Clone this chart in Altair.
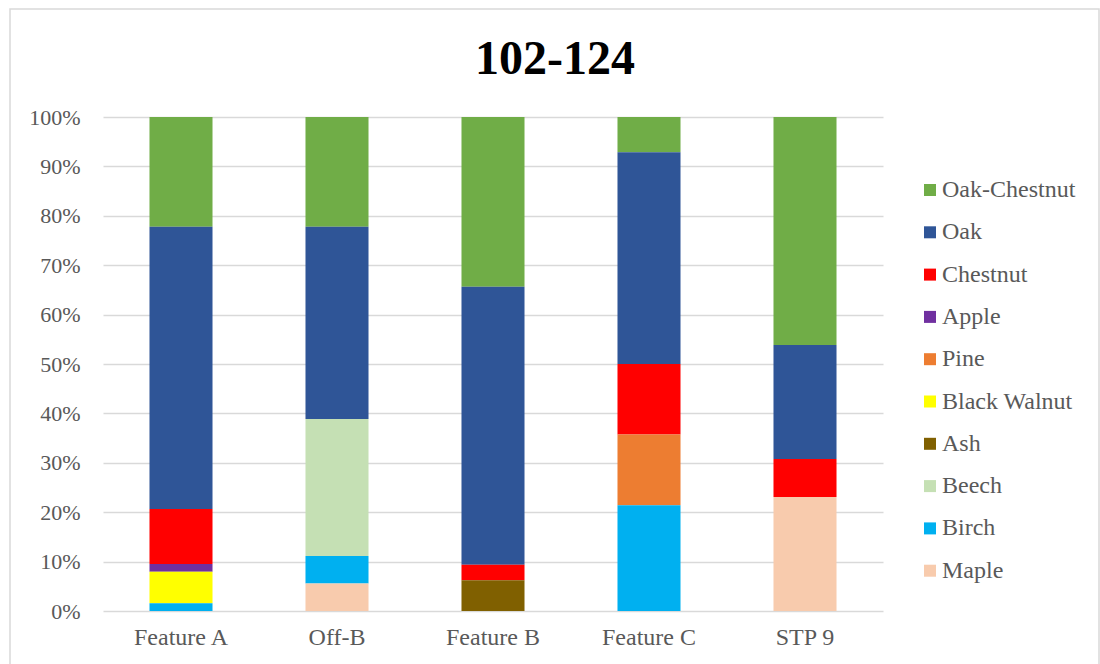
import altair as alt
import pandas as pd

# Sample sites along the x axis
sites = ["Feature A", "Off-B", "Feature B", "Feature C", "STP 9"]

# Wood taxa, listed top of legend first
taxa = ["Oak-Chestnut", "Oak", "Chestnut", "Apple", "Pine",
        "Black Walnut", "Ash", "Beech", "Birch", "Maple"]

colors = ["#70AD47", "#2F5597", "#FF0000", "#7030A0", "#ED7D31",
          "#FFFF00", "#806000", "#C5E0B4", "#00B0F0", "#F8CBAD"]

# Fragment counts per taxon, one value per site (same order as `sites`)
oak_chestnut = [14, 4, 11, 1, 6]
oak          = [36, 7, 18, 6, 3]
chestnut     = [7, 0, 1, 2, 1]
apple        = [1, 0, 0, 0, 0]
pine         = [0, 0, 0, 2, 0]
black_walnut = [4, 0, 0, 0, 0]
ash          = [0, 0, 2, 0, 0]
beech        = [0, 5, 0, 0, 0]
birch        = [1, 1, 0, 3, 0]
maple        = [0, 1, 0, 0, 3]

counts = [oak_chestnut, oak, chestnut, apple, pine,
          black_walnut, ash, beech, birch, maple]

rows = []
for t_i, (taxon, vals) in enumerate(zip(taxa, counts)):
    for site, v in zip(sites, vals):
        rows.append({"site": site, "taxon": taxon, "count": v,
                     "stack": len(taxa) - 1 - t_i})
df = pd.DataFrame(rows)

FONT = "Liberation Serif"
GREY = "#595959"
W, H = 780, 494

bars = alt.Chart(df).mark_bar().encode(
    x=alt.X("site:N", sort=sites,
            scale=alt.Scale(paddingInner=0.596, paddingOuter=0.298),
            axis=alt.Axis(title=None, labelAngle=0, ticks=False, tickSize=0,
                          domain=False, grid=False, labelPadding=14,
                          labelFontSize=24, labelFont=FONT, labelColor=GREY)),
    y=alt.Y("count:Q", stack="normalize",
            scale=alt.Scale(domain=[0, 1]),
            axis=alt.Axis(title=None, format=".0%",
                          values=[i / 10 for i in range(11)],
                          ticks=False, tickSize=0, domain=False,
                          labelPadding=23, labelFontSize=22,
                          labelFont=FONT, labelColor=GREY,
                          grid=True, gridColor="#d9d9d9", gridWidth=1.3)),
    color=alt.Color("taxon:N",
                    scale=alt.Scale(domain=taxa, range=colors),
                    legend=alt.Legend(title=None, orient="none",
                                      legendX=815, legendY=61,
                                      symbolType="square", symbolSize=144,
                                      symbolStrokeWidth=0,
                                      labelFont=FONT, labelFontSize=24,
                                      labelColor=GREY, rowPadding=18.3,
                                      labelOffset=0)),
    order=alt.Order("stack:Q", sort="ascending"),
)

# Light grey frame around the whole figure
frame = alt.Chart(pd.DataFrame({"k": [0]})).mark_rect(
    fill=None, stroke="#d9d9d9", strokeWidth=1.5, clip=False
).encode(
    x=alt.value(-93), x2=alt.value(996),
    y=alt.value(-108), y2=alt.value(560),
)

# Chart heading
heading = alt.Chart(pd.DataFrame({"t": ["102-124"]})).mark_text(
    font=FONT, fontSize=48, fontWeight="bold", color="black",
    align="center", baseline="alphabetic",
).encode(x=alt.value(452), y=alt.value(-43), text="t:N")

chart = alt.layer(frame, bars, heading).properties(
    width=W, height=H,
    padding={"left": 103, "top": 117, "right": 217, "bottom": 53},
    autosize=alt.AutoSizeParams(type="none"),
).configure(
    background="white", font=FONT
).configure_view(
    stroke=None
).configure_axis(
    labelFont=FONT
).configure_legend(
    labelFont=FONT
)

chart.save("out.html", embed_options={"renderer": "svg", "actions": False})
